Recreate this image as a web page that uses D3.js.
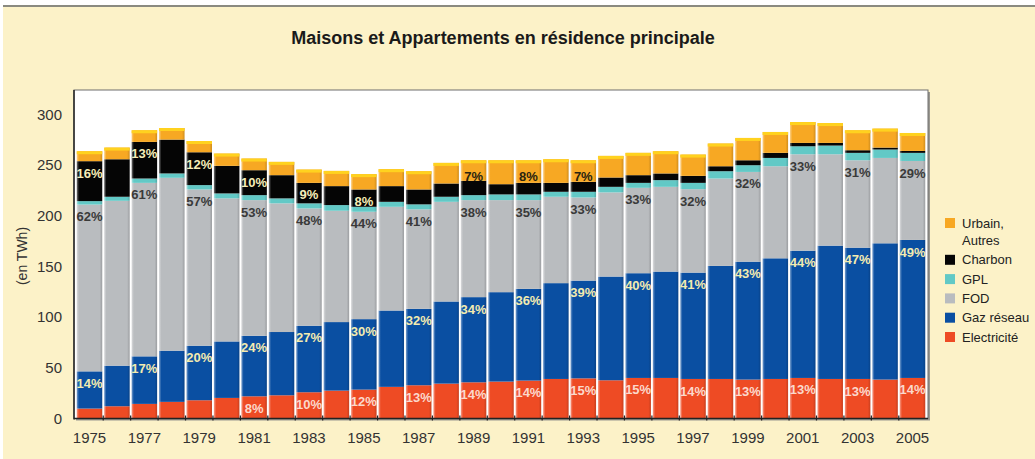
<!DOCTYPE html>
<html>
<head>
<meta charset="utf-8">
<script src="https://cdn.jsdelivr.net/npm/d3@7"></script>
<style>
  html, body { margin: 0; padding: 0; background: #fff; }
  svg { display: block; }
</style>
</head>
<body>
<svg id="chart" width="1035" height="459"></svg>
<script>
// ---- DATA (TWh) ----
const years = [1975,1976,1977,1978,1979,1980,1981,1982,1983,1984,1985,1986,1987,1988,1989,1990,
               1991,1992,1993,1994,1995,1996,1997,1998,1999,2000,2001,2002,2003,2004,2005];
const electricite = [9.8,12.1,14.4,16.4,18.0,20.3,21.9,22.9,25.9,27.5,28.5,31.2,32.8,34.4,35.7,36.4,
                     37.4,39.0,39.6,37.7,40.0,40.0,39.0,39.0,38.4,39.0,40.0,39.0,39.0,38.4,40.0];
const gazReseau   = [36.7,40.0,46.9,50.5,53.8,55.7,59.7,62.4,65.6,67.6,69.5,75.3,75.4,81.0,84.0,88.2,
                     90.5,94.5,96.4,102.3,103.3,104.9,104.9,111.5,116.3,119.0,125.5,131.5,129.5,134.4,136.1];
const fod         = [164.5,162.6,171.1,170.5,154.1,141.1,133.8,126.9,115.7,109.8,105.9,102.3,98.1,98.3,95.7,90.8,
                     87.5,85.2,82.0,83.0,84.2,83.6,82.3,86.2,88.5,90.8,95.1,90.1,86.2,84.2,77.9];
const gpl         = [3.4,4.0,4.3,4.3,4.3,4.9,4.9,4.9,5.0,5.6,4.9,4.9,4.9,5.0,4.9,5.6,
                     5.6,4.9,5.6,5.5,4.9,6.6,6.2,7.2,6.6,8.2,7.9,8.6,7.3,8.3,8.0];
const charbon     = [39.4,37.0,36.1,33.4,32.4,27.2,24.6,22.9,20.2,18.7,17.1,15.5,14.7,13.1,14.1,10.1,
                     11.4,8.8,9.8,9.2,7.6,6.6,6.9,4.9,4.9,5.0,3.3,2.6,2.6,1.9,1.9];
const urbain      = [9.8,11.5,11.5,11.4,11.1,12.1,11.5,13.1,13.1,15.0,15.1,16.7,18.0,20.3,20.3,23.6,
                     22.3,23.3,21.3,21.3,22.0,21.9,21.0,22.4,22.0,20.6,20.6,19.6,19.7,18.7,17.7];

const seriesNames = ["Electricité","Gaz réseau","FOD","GPL","Charbon","Urbain, Autres"];
const seriesColors = ["#EE4B24","#0A4FA2","#B9BCBF","#62C9C6","#050505","#F7A823"];
const yTicks = [0,50,100,150,200,250,300];
const xTickYears = [1975,1977,1979,1981,1983,1985,1987,1989,1991,1993,1995,1997,1999,2001,2003,2005];

// percentage labels : [year, text]
const pctCharbon = [[1975,"16%"],[1977,"13%"],[1979,"12%"],[1981,"10%"],[1983,"9%"],[1985,"8%"]];
const pctUrbain  = [[1989,"7%"],[1991,"8%"],[1993,"7%"]];
const pctFod     = [[1975,"62%"],[1977,"61%"],[1979,"57%"],[1981,"53%"],[1983,"48%"],[1985,"44%"],[1987,"41%"],
                    [1989,"38%"],[1991,"35%"],[1993,"33%"],[1995,"33%"],[1997,"32%"],[1999,"32%"],[2001,"33%"],
                    [2003,"31%"],[2005,"29%"]];
const pctGaz     = [[1975,"14%"],[1977,"17%"],[1979,"20%"],[1981,"24%"],[1983,"27%"],[1985,"30%"],[1987,"32%"],
                    [1989,"34%"],[1991,"36%"],[1993,"39%"],[1995,"40%"],[1997,"41%"],[1999,"43%"],[2001,"44%"],
                    [2003,"47%"],[2005,"49%"]];
const pctElec    = [[1981,"8%"],[1983,"10%"],[1985,"12%"],[1987,"13%"],[1989,"14%"],[1991,"14%"],[1993,"15%"],
                    [1995,"15%"],[1997,"14%"],[1999,"13%"],[2001,"13%"],[2003,"13%"],[2005,"14%"]];

// ---- BUILD ----
const table = years.map((yr, i) => ({
  year: yr,
  s0: electricite[i], s1: gazReseau[i], s2: fod[i], s3: gpl[i], s4: charbon[i], s5: urbain[i]
}));
const keys = ["s0","s1","s2","s3","s4","s5"];
const stacked = d3.stack().keys(keys)(table);

const FONT = '"Liberation Sans Narrow","Liberation Sans",Arial,sans-serif';
const svg = d3.select("#chart");

// page background
svg.append("rect").attr("x",0).attr("y",0).attr("width",1035).attr("height",459).attr("fill","#FCF2C8");
svg.append("rect").attr("x",0).attr("y",0).attr("width",1035).attr("height",5).attr("fill","#fff");
svg.append("rect").attr("x",0).attr("y",5).attr("width",1035).attr("height",2).attr("fill","#8a8a80");
svg.append("rect").attr("x",0).attr("y",0).attr("width",3).attr("height",459).attr("fill","#fff");

const L = 74, R = 928, T = 90, B = 418.5;

const x = d3.scaleBand().domain(years).range([L, R]).paddingInner(0.07).paddingOuter(0.1);
const y = d3.scaleLinear().domain([0, 324]).range([B, T]);

// title
svg.append("text").attr("x", 503).attr("y", 44).attr("text-anchor","middle")
  .attr("font-family", FONT).attr("font-weight","bold").attr("font-size", 18).attr("fill","#1a1a1a")
  .text("Maisons et Appartements en résidence principale");

// plot frame: shadow + white area
svg.append("rect").attr("x", L+2).attr("y", T+2).attr("width", R-L).attr("height", B-T)
  .attr("fill","#9a9890");
svg.append("rect").attr("x", L).attr("y", T).attr("width", R-L).attr("height", B-T)
  .attr("fill","#fff").attr("stroke","#6e6e6e").attr("stroke-width",1);

// gradients for 3D look
const defs = svg.append("defs");
seriesColors.forEach((c, i) => {
  const base = d3.color(c);
  const g = defs.append("linearGradient").attr("id","g"+i).attr("x1","0").attr("x2","1").attr("y1","0").attr("y2","0");
  g.append("stop").attr("offset","0%").attr("stop-color", d3.interpolateRgb(c, "#fff")(0.45));
  g.append("stop").attr("offset","9%").attr("stop-color", c);
  g.append("stop").attr("offset","90%").attr("stop-color", c);
  g.append("stop").attr("offset","100%").attr("stop-color", base.darker(0.5).formatHex());
});

// bars
const layers = svg.append("g").selectAll("g").data(stacked).join("g")
  .attr("fill", (d, i) => `url(#g${i})`);
layers.selectAll("rect").data(d => d).join("rect")
  .attr("x", d => x(d.data.year))
  .attr("width", x.bandwidth())
  .attr("y", d => y(d[1]))
  .attr("height", d => Math.max(0, y(d[0]) - y(d[1])));

// yellow highlight on top of each bar
const topLayer = stacked[stacked.length-1];
svg.append("g").selectAll("rect").data(topLayer).join("rect")
  .attr("x", d => x(d.data.year)).attr("width", x.bandwidth())
  .attr("y", d => y(d[1])).attr("height", 3).attr("fill","#FFD21F");

// x axis line and ticks at bar boundaries
svg.append("line").attr("x1", L).attr("x2", R).attr("y1", B).attr("y2", B)
  .attr("stroke","#222").attr("stroke-width",1.5);
svg.append("line").attr("x1", L).attr("x2", L).attr("y1", T).attr("y2", B+1)
  .attr("stroke","#222").attr("stroke-width",1.5);
svg.append("g").selectAll("line").data(years.slice(1)).join("line")
  .attr("x1", d => x(d) - x.step()*x.paddingInner()/2).attr("x2", d => x(d) - x.step()*x.paddingInner()/2)
  .attr("y1", B-3).attr("y2", B+2).attr("stroke","#222").attr("stroke-width",1.2);

// y axis labels
svg.append("g").selectAll("text").data(yTicks).join("text")
  .attr("x", 62).attr("y", d => y(d)).attr("dy","0.35em").attr("text-anchor","end")
  .attr("font-family", FONT).attr("font-size", 15).attr("fill","#333")
  .text(d => d);

// x axis labels
svg.append("g").selectAll("text").data(xTickYears).join("text")
  .attr("x", d => x(d) + x.bandwidth()/2).attr("y", 438).attr("dy","0.35em").attr("text-anchor","middle")
  .attr("font-family", FONT).attr("font-size", 15).attr("fill","#333")
  .text(d => d);

// y axis title
svg.append("text").attr("transform","translate(22,256) rotate(-90)").attr("text-anchor","middle")
  .attr("dy","0.35em").attr("font-family", FONT).attr("font-size", 14).attr("fill","#333")
  .text("(en TWh)");

// percentage labels
function addLabels(list, layerIdx, color, offset) {
  const layer = stacked[layerIdx];
  svg.append("g").selectAll("text").data(list).join("text")
    .attr("x", d => x(d[0]) + x.bandwidth()/2)
    .attr("y", d => y(layer[years.indexOf(d[0])][1]) + offset)
    .attr("dy","0.35em").attr("text-anchor","middle")
    .attr("font-family", FONT).attr("font-size", 13).attr("font-weight","bold").attr("fill", color)
    .text(d => d[1]);
}
addLabels(pctCharbon, 4, "#F6EDB8", 12);
addLabels(pctUrbain, 5, "#2a2410", 16);
addLabels(pctFod, 2, "#3a3a3a", 12);
addLabels(pctGaz, 1, "#F3EBB0", 12);
addLabels(pctElec, 0, "#FBD9CC", 12);

// legend
const legendItems = [
  {i:5, lines:["Urbain,","Autres"]},
  {i:4, lines:["Charbon"]},
  {i:3, lines:["GPL"]},
  {i:2, lines:["FOD"]},
  {i:1, lines:["Gaz réseau"]},
  {i:0, lines:["Electricité"]}
];
let ly = 223;
legendItems.forEach(it => {
  svg.append("rect").attr("x", 945).attr("y", ly-5).attr("width", 10).attr("height", 10)
    .attr("fill", seriesColors[it.i]);
  it.lines.forEach((t, k) => {
    svg.append("text").attr("x", 962).attr("y", ly + k*17).attr("dy","0.35em")
      .attr("font-family", FONT).attr("font-size", 13).attr("fill","#222").text(t);
  });
  ly += 19.3 + (it.lines.length-1)*17.5;
});
</script>
</body>
</html>
